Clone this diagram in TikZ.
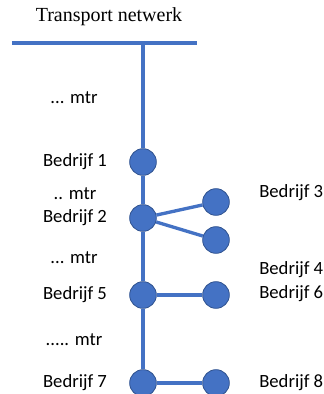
\documentclass[tikz,border=0pt]{standalone}
\usepackage{fontspec}
\setsansfont{Carlito}
\newfontfamily\titlefont{Liberation Serif}
\usepackage{tikz}

\definecolor{netblue}{HTML}{4472C4}
\definecolor{netedge}{HTML}{2F528F}

\tikzset{
	company/.style = {circle, draw = netedge, line width = 0.6pt, fill = netblue, minimum size = 20pt, inner sep = 0pt},
	link/.style = {draw = netblue, line width = 2.5pt},
	lbl/.style = {font = \sffamily\fontsize{14}{16}\selectfont, inner sep = 0pt}
}

\begin{document}
\begin{tikzpicture}[x = 0.75pt, y = -0.75pt]
		\useasboundingbox (0,0) rectangle (324,394);

		\node[font = \titlefont\fontsize{15}{17}\selectfont, inner sep = 0pt] (title) at (109,17) {Transport netwerk};

		\coordinate (netleft) at (12,43);
		\coordinate (netright) at (197,43);
		\coordinate (nettap) at (143,43);

		\node[company] (b1) at (143,162) {};
		\node[company] (b2) at (143,218) {};
		\node[company] (b3) at (216,202) {};
		\node[company] (b4) at (216,240) {};
		\node[company] (b5) at (143,295) {};
		\node[company] (b6) at (216,295) {};
		\node[company] (b7) at (143,383) {};
		\node[company] (b8) at (216,383) {};

		\draw[link] (netleft) -- (netright);
		\draw[link] (nettap) -- (b1);
		\draw[link] (b1) -- (b2);
		\draw[link] (b2) -- (b5);
		\draw[link] (b5) -- (b7);
		\draw[link] (b2) -- (b3);
		\draw[link] (b2) -- (b4);
		\draw[link] (b5) -- (b6);
		\draw[link] (b7) -- (b8);

		% afstanden
		\node[lbl] (m1) at (74,98) {... mtr};
		\node[lbl] (m2) at (75,194) {.. mtr};
		\node[lbl] (m3) at (74,258) {... mtr};
		\node[lbl] (m4) at (74,340) {..... mtr};

		% bedrijven
		\node[lbl] (l1) at (75,162) {Bedrijf 1};
		\node[lbl] (l2) at (75,218) {Bedrijf 2};
		\node[lbl] (l5) at (75,295) {Bedrijf 5};
		\node[lbl] (l7) at (75,383) {Bedrijf 7};
		\node[lbl, anchor = west] (l3) at (259,193) {Bedrijf 3};
		\node[lbl, anchor = west] (l4) at (259,270) {Bedrijf 4};
		\node[lbl, anchor = west] (l6) at (259,294) {Bedrijf 6};
		\node[lbl, anchor = west] (l8) at (259,383) {Bedrijf 8};

	\end{tikzpicture}
\end{document}
